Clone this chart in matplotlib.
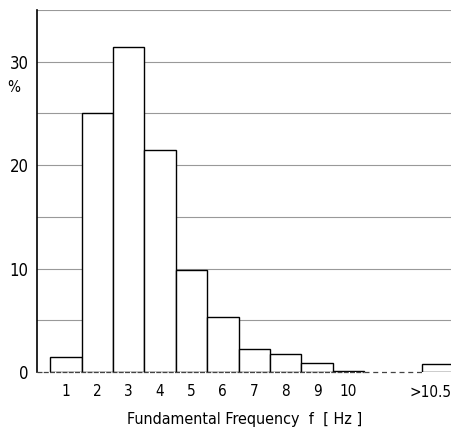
import matplotlib
matplotlib.use("Agg")
import matplotlib.pyplot as plt

categories = ["1", "2", "3", "4", "5", "6", "7", "8", "9", "10", ">10.5"]
positions = [1, 2, 3, 4, 5, 6, 7, 8, 9, 10, 12.83]
values = [1.4, 25.0, 31.4, 21.5, 9.9, 5.3, 2.2, 1.75, 0.9, 0.1, 0.8]
yticks = [0, 10, 20, 30]

plt.rcParams["font.family"] = ["DejaVu Sans"]
plt.rcParams["font.stretch"] = "condensed"

fig = plt.figure(figsize=(4.52, 4.32), dpi=100)
ax = fig.add_axes([0.082, 0.139, 0.918, 0.838])
ax.set_xlim(0.08, 13.3)
ax.set_ylim(0, 35)

for g in [5, 10, 15, 20, 25, 30, 35]:
    ax.axhline(g, color="#999999", lw=0.8, zorder=1)

ax.bar(positions, values, width=1.0, color="white", edgecolor="black", lw=1.0, zorder=2)

# baseline with break
ax.plot([0.08, 10.5], [0, 0], color="#444444", lw=0.9, ls=(0, (4, 1)), zorder=3, clip_on=False)
ax.plot([10.5, 12.33], [0, 0], color="#444444", lw=0.9, ls=(0, (4, 3)), zorder=3, clip_on=False)

for s in ["top", "right", "bottom"]:
    ax.spines[s].set_visible(False)
ax.spines["left"].set_linewidth(1.2)

ax.set_yticks(yticks)
ax.set_yticklabels([str(v) for v in yticks], fontsize=12, fontstretch="condensed")
ax.set_xticks(positions[:-1])
ax.set_xticklabels(categories[:-1], fontsize=11, fontstretch="condensed")
ax.text(13.3, -1.95, categories[-1], ha="right", va="center", fontsize=11,
        fontstretch="condensed")
ax.tick_params(axis="both", length=0)
ax.tick_params(axis="y", pad=6)
ax.tick_params(axis="x", pad=9)
ax.text(-0.055, 27.5, "%", transform=ax.get_yaxis_transform(), ha="center", va="center",
        fontsize=11, fontstretch="condensed")
ax.set_xlabel("Fundamental Frequency  f  [ Hz ]", fontsize=11.5, fontstretch="condensed")
ax.xaxis.set_label_coords(0.5, -0.112)

fig.savefig("out.png", dpi=100)
